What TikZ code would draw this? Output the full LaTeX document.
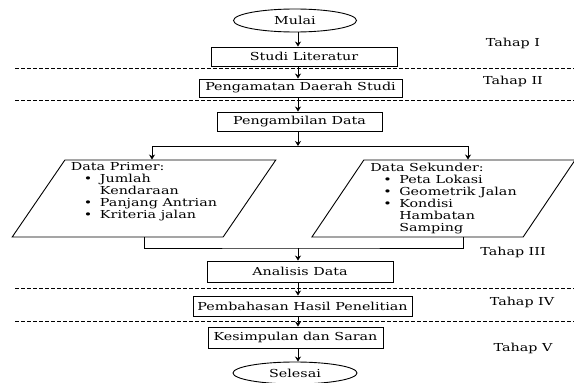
\documentclass[tikz,border=0pt]{standalone}
\usepackage{fontspec}
\setmainfont{DejaVu Serif}[FakeStretch=1.3]
\usepackage{tikz}
\usetikzlibrary{shapes.geometric, calc, arrows.meta}

\newcommand{\butir}[1]{\hspace*{13pt}\makebox[16pt][l]{\textbullet}#1}
\newcommand{\lanjut}[1]{\hspace*{29pt}#1}

\begin{document}
\begin{tikzpicture}[x=1pt, y=-1pt,
	font=\fontsize{11}{12}\selectfont,
	proses/.style={draw, line width=0.9pt, inner sep=0pt},
	terminal/.style={draw, ellipse, line width=0.9pt, inner sep=0pt},
	data/.style={draw, trapezium, trapezium left angle=56, trapezium right angle=124,
		trapezium stretches, line width=0.9pt, minimum width=264pt, minimum height=77pt,
		align=left, inner sep=0pt},
	batas/.style={dash pattern=on 4pt off 2pt, line width=0.6pt},
	tahap/.style={inner sep=0pt}]
	\useasboundingbox (0,0) rectangle (574,383);
	
	\begin{scope}
		\node[terminal, minimum width=123pt, minimum height=23pt] (mulai) at (295,20.5) {Mulai};
		\node[proses, minimum width=186pt, minimum height=19pt] (studi) at (304,56.5) {Studi Literatur};
		\node[proses, minimum width=203pt, minimum height=18pt] (pengamatan) at (300.5,88) {Pengamatan Daerah Studi};
		\node[proses, minimum width=165pt, minimum height=19pt] (pengambilan) at (299.5,121.5) {Pengambilan Data};
		\node[data] (primer) at (144,198.5) {Data Primer:\\ \butir{Jumlah}\\ \lanjut{Kendaraan}\\
			\butir{Panjang Antrian}\\ \butir{Kriteria jalan}\\[4pt]};
		\node[data] (sekunder) at (443.5,198.5) {Data Sekunder:\\ \butir{Peta Lokasi}\\ \butir{Geometrik Jalan}\\
			\butir{Kondisi}\\ \lanjut{Hambatan}\\ \lanjut{Samping}};
		\node[proses, minimum width=186pt, minimum height=21pt] (analisis) at (300,271.5) {Analisis Data};
		\node[proses, minimum width=219pt, minimum height=20pt] (pembahasan) at (302.5,306) {Pembahasan Hasil Penelitian};
		\node[proses, minimum width=175pt, minimum height=21pt] (kesimpulan) at (295.5,337.5) {Kesimpulan dan Saran};
		\node[terminal, minimum width=124pt, minimum height=22pt] (selesai) at (295,373) {Selesai};
	\end{scope}
	
	\begin{scope}
		\node[tahap] (tahapI) at (513,43) {Tahap I};
		\node[tahap] (tahapII) at (513,81) {Tahap II};
		\node[tahap] (tahapIII) at (513,252) {Tahap III};
		\node[tahap] (tahapIV) at (522,302) {Tahap IV};
		\node[tahap] (tahapV) at (523,348) {Tahap V};
		\foreach \y in {68,100,288,321}
			\draw[batas] (15,\y) -- (574,\y);
	\end{scope}
	
	\coordinate (sumbu) at (298,0);
	\coordinate (cabang) at (298,146);
	\coordinate (gabung) at (298,248);
	
	\begin{scope}[-{Stealth[length=5pt, width=6pt]}, line width=0.9pt]
		\draw (sumbu |- mulai.south) -- (sumbu |- studi.north);
		\draw (sumbu |- studi.south) -- (sumbu |- pengamatan.north);
		\draw (sumbu |- pengamatan.south) -- (sumbu |- pengambilan.north);
		\draw (sumbu |- pengambilan.south) -- (cabang);
		\draw (cabang) -| ([xshift=8pt]primer.north);
		\draw (cabang) -| ([xshift=24.5pt]sekunder.north);
		\draw[-] (primer.south) |- (gabung) -| ([xshift=19.5pt]sekunder.south);
		\draw (gabung) -- (sumbu |- analisis.north);
		\draw (sumbu |- analisis.south) -- (sumbu |- pembahasan.north);
		\draw (sumbu |- pembahasan.south) -- (sumbu |- kesimpulan.north);
		\draw (sumbu |- kesimpulan.south) -- (sumbu |- selesai.north);
	\end{scope}
\end{tikzpicture}
\end{document}
